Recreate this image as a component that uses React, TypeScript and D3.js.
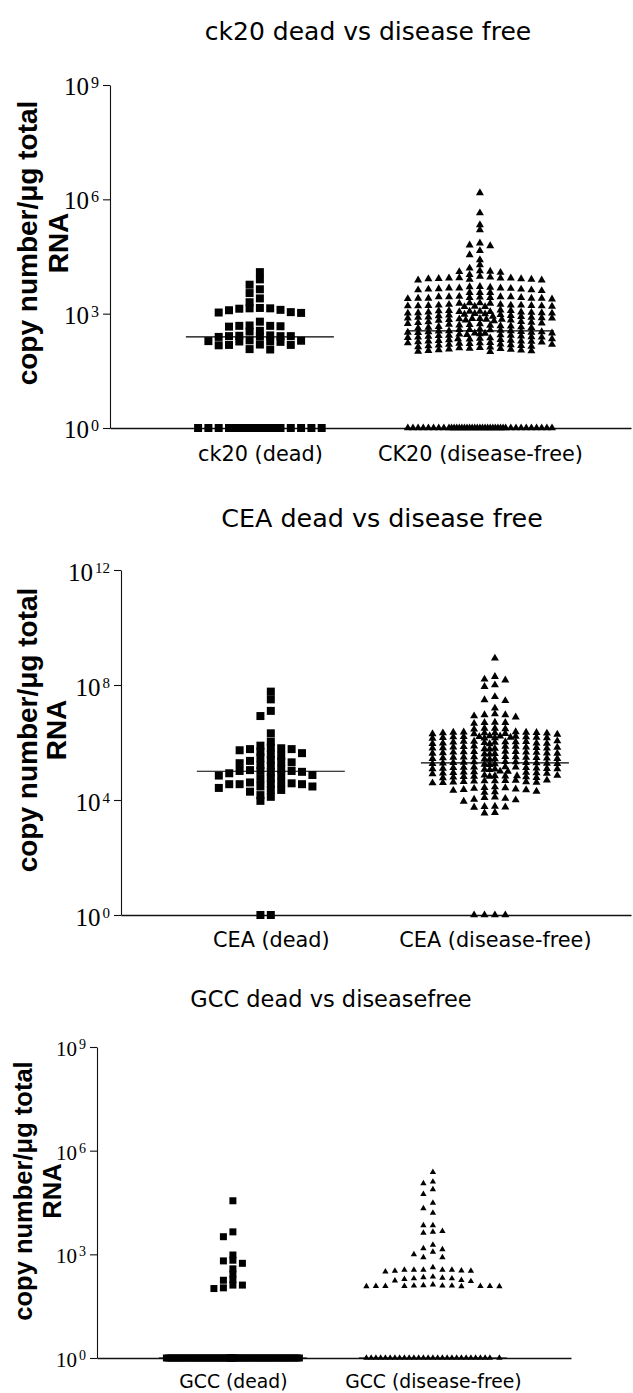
import React, { useEffect, useRef } from "react";
import * as d3 from "d3";

// values are log10(copy number / µg total RNA); 0 = 10^0 (not detected)
const ck20Dead = [
  4.09, 3.9, 3.76, 3.64, 3.54, 3.4, 3.3,
  3.03, 3.1, 3.02, 3.09, 3.04, 3.14, 3.15, 3.13, 3.14,
  2.79, 2.68, 2.67, 2.69, 2.66, 2.68, 2.53, 2.55,
  2.41, 2.4, 2.42, 2.41, 2.39, 2.43, 2.41,
  2.28, 2.27, 2.29, 2.28, 2.26, 2.3,
  2.18, 2.17, 2.19, 2.18, 2.07, 2.06,
  0, 0, 0, 0, 0, 0, 0, 0, 0, 0, 0, 0, 0, 0, 0, 0, 0, 0,
];

const ck20Free = [
  6.17, 5.64, 5.33, 5.2, 4.85, 4.78, 4.8, 4.65, 4.54, 4.41, 4.28, 4.19,
  4.1, 4.12, 4.08, 4.11, 4.02,
  3.94, 3.92, 3.9, 3.9, 3.93, 3.96, 3.91, 3.91, 3.88, 3.88, 3.93, 3.93, 3.98,
  3.65, 3.64, 3.62, 3.62, 3.67, 3.7, 3.71, 3.69, 3.67, 3.64, 3.6, 3.66, 3.67, 3.55, 3.55, 3.55,
  3.4, 3.4, 3.42, 3.4, 3.42, 3.44, 3.44, 3.45, 3.44, 3.44, 3.43, 3.38, 3.4, 3.42, 3.39,
  3.19, 3.2, 3.21, 3.21, 3.18, 3.22, 3.24, 3.24, 3.22, 3.2, 3.2, 3.19, 3.18, 3.22, 3.27, 3.28, 3.28, 3.27,
  3.08, 3.05, 3.02, 3.06, 3.04, 3.0, 2.98, 3.03, 3.07, 3.01, 2.97, 3.05, 3.09, 2.99, 3.02, 3.06, 3.04, 2.96, 3.01, 3.08,
  2.92, 2.88, 2.85, 2.9, 2.83, 2.94, 2.87, 2.81, 2.89, 2.93, 2.86, 2.84, 2.91, 2.82, 2.88, 2.95, 2.85, 2.9, 2.87, 2.83,
  2.78, 2.72, 2.66, 2.75, 2.69, 2.63, 2.77, 2.7, 2.65, 2.74, 2.68, 2.62, 2.79, 2.71, 2.67, 2.76, 2.64, 2.73,
  2.58, 2.52, 2.47, 2.55, 2.49, 2.59, 2.51, 2.46, 2.56, 2.53, 2.48, 2.57, 2.5, 2.54, 2.45, 2.58, 2.52, 2.49, 2.55, 2.51,
  2.43, 2.38, 2.33, 2.41, 2.36, 2.31, 2.44, 2.39, 2.34, 2.42, 2.37, 2.32, 2.4, 2.35, 2.3, 2.43, 2.38, 2.34,
  2.28, 2.23, 2.18, 2.26, 2.21, 2.16, 2.29, 2.24, 2.19, 2.27, 2.22, 2.17, 2.25, 2.2, 2.15, 2.28, 2.23, 2.19,
  2.13, 2.08, 2.03, 2.11, 2.06, 2.01, 2.14, 2.09, 2.04, 2.12, 2.07, 2.02, 2.1, 2.05, 2.0,
  0, 0, 0, 0, 0, 0, 0, 0, 0, 0, 0, 0, 0, 0, 0, 0, 0, 0, 0, 0,
  0, 0, 0, 0, 0, 0, 0, 0, 0, 0, 0, 0, 0, 0, 0, 0, 0, 0, 0, 0,
];

const ceaDead = [
  7.77, 7.5, 7.1, 6.92, 6.32, 6.03,
  5.82, 5.77, 5.73, 5.63, 5.59, 5.68, 5.77, 5.8, 5.89,
  5.54, 5.39, 5.33, 5.28, 5.22, 5.19, 5.31, 5.36, 5.47,
  5.04, 5.01, 4.98, 4.93, 4.87, 4.85, 4.87, 4.98, 5.01, 5.01, 5.08,
  4.61, 4.58, 4.56, 4.55, 4.35, 4.47, 4.73, 4.76, 4.42, 4.47, 4.55, 4.55, 4.61,
  4.17, 4.35, 4.29, 4.11, 3.97,
  0, 0,
];

const ceaFree = [
  8.93, 8.29, 8.17, 8.2, 7.94, 8.0, 7.48, 7.59, 7.45, 7.19,
  6.96, 6.88, 6.96, 6.99, 6.92,
  6.69, 6.69, 6.66, 6.7,
  6.49, 6.49, 6.46, 6.47,
  6.33, 6.35, 6.3, 6.33, 6.36, 6.31, 6.34, 6.28, 6.33, 6.37, 6.3, 6.32, 6.35,
  6.2, 6.16, 6.18, 6.22, 6.15, 6.19, 6.21, 6.17, 6.14, 6.2, 6.18, 6.23, 6.16, 6.19,
  6.02, 5.98, 6.04, 5.96, 6.01, 5.99, 6.05, 5.97, 6.03, 6.0, 5.95, 6.02, 5.98, 6.04,
  5.84, 5.8, 5.86, 5.78, 5.83, 5.81, 5.87, 5.79, 5.85, 5.82, 5.77, 5.84, 5.8, 5.86,
  5.66, 5.62, 5.68, 5.6, 5.65, 5.63, 5.69, 5.61, 5.67, 5.64, 5.59, 5.66, 5.62, 5.68,
  5.48, 5.44, 5.5, 5.42, 5.47, 5.45, 5.51, 5.43, 5.49, 5.46, 5.41, 5.48, 5.44, 5.5,
  5.3, 5.26, 5.32, 5.24, 5.29, 5.27, 5.33, 5.25, 5.31, 5.28, 5.23, 5.3, 5.26, 5.32,
  5.12, 5.08, 5.14, 5.06, 5.11, 5.09, 5.15, 5.07, 5.13, 5.1, 5.05, 5.12, 5.08, 5.14,
  4.97, 4.93, 4.99, 4.91, 4.96, 4.94, 5.0, 4.92, 4.98, 4.95,
  4.85, 4.82, 4.8, 4.84, 4.78, 4.83, 4.81, 4.86, 4.79, 4.84, 4.77, 4.82,
  4.66, 4.62, 4.68, 4.6, 4.65, 4.63, 4.69, 4.61, 4.67, 4.64, 4.59, 4.66,
  4.45, 4.4, 4.35, 4.3, 4.26, 4.43, 4.38, 4.33, 4.28, 4.42, 4.36,
  4.1, 4.05, 4.0, 3.95, 4.08, 4.02,
  3.78, 3.75, 3.74, 3.77,
  3.56, 3.54,
  0, 0, 0, 0,
];

const gccDead = [
  4.55, 3.65, 3.51, 2.98, 2.81, 2.74, 2.83, 2.58, 2.43, 2.27, 2.11, 2.03, 2.01, 2.11, 2.25,
  0, 0, 0, 0, 0, 0, 0, 0, 0, 0, 0, 0, 0, 0, 0, 0, 0, 0, 0, 0,
  0, 0, 0, 0, 0, 0, 0, 0, 0, 0, 0, 0, 0, 0, 0, 0, 0, 0, 0, 0,
  0, 0, 0, 0, 0, 0, 0, 0, 0, 0, 0, 0, 0, 0, 0, 0, 0, 0, 0, 0,
];

const gccFree = [
  5.38, 5.05, 5.1, 4.88, 4.74, 4.49, 4.33, 4.2,
  3.84, 3.67, 3.62, 3.65, 3.84, 3.27, 3.14, 3.0, 2.91, 2.91, 3.07, 3.17,
  2.55, 2.55, 2.52, 2.5, 2.62, 2.55, 2.52, 2.53, 2.55, 2.55,
  2.35, 2.3, 2.25, 2.32, 2.24, 2.28, 2.22, 2.3, 2.33,
  2.1, 2.09, 2.08, 2.09, 2.08, 2.08, 2.07, 2.07, 2.07, 2.08, 2.08, 2.09, 2.12,
  0, 0, 0, 0, 0, 0, 0, 0, 0, 0, 0, 0, 0, 0,
  0, 0, 0, 0, 0, 0, 0, 0, 0, 0, 0, 0, 0, 0,
];

// median lines (log10), as drawn in the figure
const ck20Medians = [2.39, 2.55];
const ceaMedians = [5.0, 5.29];
const gccMedians = [0, 0];

const ck20Categories = ["ck20 (dead)", "CK20 (disease-free)"];
const ceaCategories = ["CEA (dead)", "CEA (disease-free)"];
const gccCategories = ["GCC (dead)", "GCC (disease-free)"];

const ck20Ticks = [0, 3, 6, 9];
const ceaTicks = [0, 4, 8, 12];
const gccTicks = [0, 3, 6, 9];

const titles = ["ck20 dead vs disease free", "CEA dead vs disease free", "GCC dead vs diseasefree"];

const panels = [
  {
    title: titles[0], categories: ck20Categories, groups: [ck20Dead, ck20Free],
    medians: ck20Medians, ticks: ck20Ticks,
    top: 85, bottom: 428, left: 110, right: 631, padding: 0.684, align: 0.498,
    titleX: 368, titleY: 40, titleSize: 25,
    labelY: 461, labelSize: 20.8,
    yLabelY: 243, yLabelX: [37, 68], yLabelSize: 28,
    tickSize: 25, tickDy: 10, supSize: 16, supRaise: 7,
    step: 10.3, marker: 8, tri: 1, triH: 0.55, maxK: [6, 7],
  },
  {
    title: titles[1], categories: ceaCategories, groups: [ceaDead, ceaFree],
    medians: ceaMedians, ticks: ceaTicks,
    top: 570, bottom: 915, left: 121, right: 631, padding: 0.638, align: 0.524,
    titleX: 382, titleY: 527, titleSize: 25.4,
    labelY: 947, labelSize: 20.8,
    yLabelY: 730, yLabelX: [37, 66], yLabelSize: 28,
    tickSize: 25, tickDy: 11, supSize: 15, supRaise: 8,
    step: 10.4, marker: 8, tri: 1, triH: 0.55, maxK: [6, 6],
  },
  {
    title: titles[2], categories: gccCategories, groups: [gccDead, gccFree],
    medians: gccMedians, ticks: gccTicks,
    top: 1047, bottom: 1358, left: 97, right: 571, padding: 0.685, align: 0.496,
    titleX: 331, titleY: 1007, titleSize: 22.5,
    labelY: 1388, labelSize: 18.8,
    yLabelY: 1191, yLabelX: [32, 61], yLabelSize: 25.5,
    tickSize: 21, tickDy: 9, supSize: 14, supRaise: 7,
    step: 9.5, marker: 7, tri: 0.9, triH: 0.85, maxK: [7, 7],
  },
];

// column scatter layout: grid slots centre-out, overflow goes between slots
const swarm = (vals: number[], y, cx: number, step: number, maxK: number, w: number, h: number) => {
  const order = d3.range(vals.length).sort((a, b) => vals[b] - vals[a] || a - b);
  const ints = [0];
  for (let k = 1; k <= maxK; k++) ints.push(-k, k);
  const fine = d3
    .range(-maxK * 8, maxK * 8 + 1)
    .map((i) => i / 8)
    .sort((a, b) => Math.abs(a) - Math.abs(b) || a - b);
  const placed: { x: number; y: number }[] = [];
  order.forEach((i) => {
    const py = y(vals[i]);
    const near = placed.filter((p) => Math.abs(p.y - py) < h);
    let s = ints.find((k) => near.every((p) => Math.abs(p.x - (cx + k * step)) >= w));
    if (s === undefined) {
      let best = -1;
      fine.forEach((f) => {
        const d = d3.min(near, (p) => Math.abs(p.x - (cx + f * step)));
        if (d > best + 1e-6) {
          best = d;
          s = f;
        }
      });
    }
    placed.push({ x: cx + s * step, y: py });
  });
  return placed;
};

const drawPanel = (svg, p) => {
  const y = d3.scaleLinear().domain([0, p.ticks[p.ticks.length - 1]]).range([p.bottom, p.top]);
  const x = d3
    .scalePoint()
    .domain(p.categories)
    .range([p.left, p.right])
    .padding(p.padding)
    .align(p.align);

  const g = svg.append("g");

  // title
  g.append("text")
    .attr("x", p.titleX)
    .attr("y", p.titleY)
    .attr("text-anchor", "middle")
    .attr("font-family", "'DejaVu Sans', Verdana, sans-serif")
    .attr("font-size", p.titleSize)
    .text(p.title);

  // y axis
  const yAxis = g
    .append("g")
    .attr("transform", `translate(${p.left},0)`)
    .call(d3.axisLeft(y).tickValues(p.ticks).tickSize(7).tickSizeOuter(0).tickFormat(() => ""));
  yAxis.select(".domain").attr("stroke", "#111").attr("stroke-width", 1.1);
  yAxis.selectAll(".tick line").attr("stroke", "#111").attr("stroke-width", 1.1);

  // tick labels 10^n
  const lab = g
    .append("g")
    .attr("font-family", "'Liberation Serif', 'Times New Roman', serif")
    .attr("text-anchor", "end")
    .attr("fill", "#000");
  p.ticks.forEach((t) => {
    const tx = lab
      .append("text")
      .attr("x", p.left - 11)
      .attr("y", y(t) + p.tickDy)
      .attr("font-size", p.tickSize);
    tx.append("tspan").text("10");
    tx.append("tspan").attr("dx", 2).attr("dy", -p.supRaise).attr("font-size", p.supSize).text(t);
  });

  // y label
  const yl = g
    .append("g")
    .attr("font-family", "'Liberation Sans', Arial, sans-serif")
    .attr("font-weight", "bold")
    .attr("font-size", p.yLabelSize)
    .attr("text-anchor", "middle");
  yl.append("text")
    .attr("transform", `translate(${p.yLabelX[0]},${p.yLabelY}) rotate(-90)`)
    .text("copy number/μg total");
  yl.append("text")
    .attr("transform", `translate(${p.yLabelX[1]},${p.yLabelY}) rotate(-90)`)
    .text("RNA");

  // x axis
  const xAxis = g
    .append("g")
    .attr("transform", `translate(0,${y(0)})`)
    .call(d3.axisBottom(x).tickSize(0).tickSizeOuter(0));
  xAxis.select(".domain").attr("stroke", "#111").attr("stroke-width", 1.6);
  xAxis
    .selectAll(".tick text")
    .attr("y", p.labelY - y(0))
    .attr("dy", null)
    .attr("fill", "#000")
    .attr("font-family", "'DejaVu Sans', Verdana, sans-serif")
    .attr("font-size", p.labelSize);

  // points
  p.groups.forEach((vals, gi) => {
    const cx = x(p.categories[gi]);
    const square = gi === 0;
    const w = square ? p.marker : p.marker * p.tri;
    const h = square ? p.marker * 0.7 : p.marker * p.triH;
    const pts = swarm(vals, y, cx, p.step, p.maxK[gi], w, h);
    const sym = square
      ? d3.symbol().type(d3.symbolSquare).size(w * w)
      : d3.symbol().type(d3.symbolTriangle).size((Math.sqrt(3) / 4) * w * w);
    g.append("g")
      .selectAll("path")
      .data(pts)
      .join("path")
      .attr("transform", (d) => `translate(${d.x},${d.y})`)
      .attr("d", sym())
      .attr("fill", "#000");
  });

  // median lines
  g.append("g")
    .selectAll("line")
    .data(p.medians)
    .join("line")
    .attr("x1", (d, i) => x(p.categories[i]) - 74)
    .attr("x2", (d, i) => x(p.categories[i]) + 74)
    .attr("y1", (d) => y(d))
    .attr("y2", (d) => y(d))
    .attr("stroke", "#000")
    .attr("stroke-width", 1.2);
};

const App = () => {
  const ref = useRef(null);

  useEffect(() => {
    const svg = d3.select(ref.current);
    svg.selectAll("*").remove();
    panels.forEach((p) => drawPanel(svg, p));
  }, []);

  return (
    <svg
      ref={ref}
      width={633}
      height={1393}
      style={{ position: "absolute", left: 0, top: 0, background: "#fff" }}
    />
  );
};

export default App;
